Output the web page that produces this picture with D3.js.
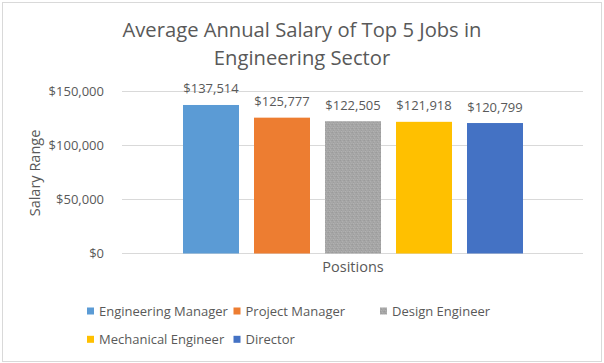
<!DOCTYPE html>
<html>
<head>
<meta charset="utf-8">
<script src="https://cdn.jsdelivr.net/npm/d3@7"></script>
<style>
  body { margin: 0; background: #fff; }
  text { font-family: "Open Sans", sans-serif; fill: #595959; }
</style>
</head>
<body>
<svg id="chart" width="604" height="363"></svg>
<script>
// データ
var positions = ["Engineering Manager", "Project Manager", "Design Engineer", "Mechanical Engineer", "Director"];
var salaries = [137514, 125777, 122505, 121918, 120799];
var yTicks = [0, 50000, 100000, 150000];
var colors = ["#5B9BD5", "#ED7D31", "#A5A5A5", "#FFC000", "#4472C4"];

var svg = d3.select("#chart");
var fmt = d3.format("$,.0f");

// 枠
svg.append("rect")
  .attr("x", 2.5).attr("y", 2.5)
  .attr("width", 599).attr("height", 359)
  .attr("fill", "#fff").attr("stroke", "#d9d9d9");

// グレーの棒のざらざら模様
var pat = svg.append("defs").append("pattern")
  .attr("id", "grain").attr("width", 4).attr("height", 4)
  .attr("patternUnits", "userSpaceOnUse");
pat.append("rect").attr("width", 4).attr("height", 4).attr("fill", "#a6a6a6");
[[0,0,"#9b9b9b"],[2,1,"#b0b0b0"],[1,2,"#9e9e9e"],[3,3,"#adadad"],[3,0,"#a0a0a0"],[1,3,"#b2b2b2"]].forEach(function(p){
  pat.append("rect").attr("x", p[0]).attr("y", p[1]).attr("width", 1).attr("height", 1).attr("fill", p[2]);
});

// タイトル
svg.append("text").attr("x", 302).attr("y", 37)
  .attr("text-anchor", "middle").style("font-size", "20.2px")
  .text("Average Annual Salary of Top 5 Jobs in");
svg.append("text").attr("x", 302).attr("y", 65)
  .attr("text-anchor", "middle").style("font-size", "20.2px")
  .text("Engineering Sector");

// スケール
var plotLeft = 122, plotRight = 583;
var y = d3.scaleLinear().domain([0, 150000]).range([253.5, 91.5]);
var x = d3.scaleBand().domain(positions).range([175.5, 530.5])
  .paddingInner(15 / 71).paddingOuter(15 / 142);

// 目盛線
svg.append("g").selectAll("line").data(yTicks).join("line")
  .attr("x1", plotLeft).attr("x2", plotRight)
  .attr("y1", function(d){ return y(d); })
  .attr("y2", function(d){ return y(d); })
  .attr("stroke", "#d9d9d9").attr("stroke-width", 1);

// y軸
var yAxis = svg.append("g").attr("transform", "translate(" + plotLeft + ",0)")
  .call(d3.axisLeft(y).tickValues(yTicks).tickFormat(fmt).tickSize(0).tickPadding(18));
yAxis.select(".domain").remove();
yAxis.selectAll("text").style("font-size", "13px").style("font-family", "Open Sans").attr("fill", "#595959");

// 棒
svg.append("g").selectAll("rect").data(salaries).join("rect")
  .attr("x", function(d, i){ return x(positions[i]); })
  .attr("y", function(d){ return y(d); })
  .attr("width", x.bandwidth())
  .attr("height", function(d){ return y(0) - y(d); })
  .attr("fill", function(d, i){ return i == 2 ? "url(#grain)" : colors[i]; });

// ラベル
svg.append("g").selectAll("text").data(salaries).join("text")
  .attr("x", function(d, i){ return x(positions[i]) + x.bandwidth() / 2; })
  .attr("y", function(d){ return y(d) - 11.5; })
  .attr("text-anchor", "middle").style("font-size", "13px")
  .text(function(d){ return fmt(d); });

// 軸タイトル
svg.append("text").attr("x", 353).attr("y", 272)
  .attr("text-anchor", "middle").style("font-size", "14.5px")
  .text("Positions");
svg.append("text").attr("transform", "translate(40,173) rotate(-90)")
  .attr("text-anchor", "middle").style("font-size", "14.5px")
  .text("Salary Range");

// 凡例
var legend = svg.append("g").selectAll("g").data(positions).join("g")
  .attr("transform", function(d, i){
    return "translate(" + (87 + (i % 3) * 146.5) + "," + (311 + Math.floor(i / 3) * 28.3) + ")";
  });
legend.append("rect").attr("x", 0).attr("y", -3.5).attr("width", 7).attr("height", 7)
  .attr("fill", function(d, i){ return i == 2 ? "url(#grain)" : colors[i]; });
legend.append("text").attr("x", 12).attr("y", 0).attr("dy", "0.35em")
  .style("font-size", "13px")
  .text(function(d){ return d; });
</script>
</body>
</html>
